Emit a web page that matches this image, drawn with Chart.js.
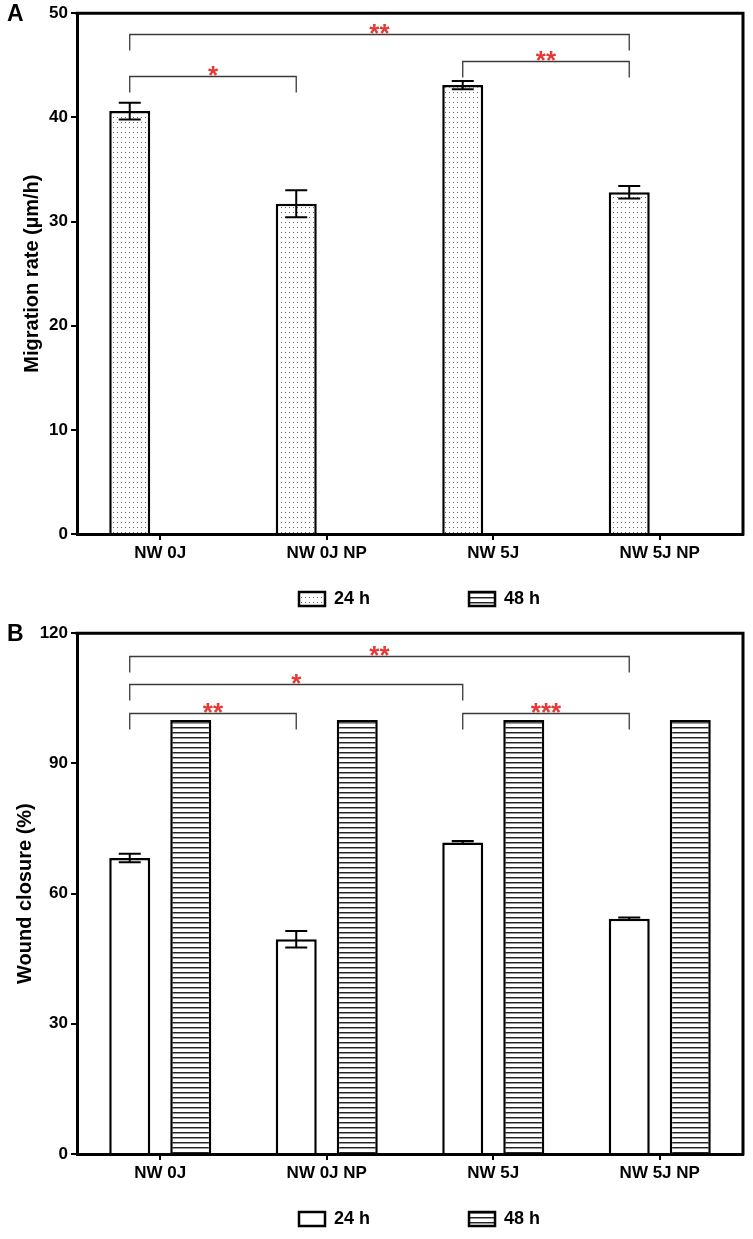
<!doctype html>
<html>
<head>
<meta charset="utf-8"/>
<title>Migration rate and wound closure</title>
<style>
  body { margin: 0; background: #fff; }
  #page { position: relative; width: 753px; height: 1239px; overflow: hidden; }
  canvas { position: absolute; left: 0; }
  .panel { position: absolute; left: 7px; font: bold 23px/23px "Liberation Sans", Arial, sans-serif; color: #000; }
</style>
</head>
<body>
<div id="page">
  <canvas id="chartA" width="753" height="620" style="top:0"></canvas>
  <canvas id="chartB" width="753" height="619" style="top:620px"></canvas>
  <div class="panel" style="top:2px">A</div>
  <div class="panel" style="top:622px">B</div>
</div>
<script src="https://cdn.jsdelivr.net/npm/chart.js@4.4.1/dist/chart.umd.min.js"></script>
<script>
var groups = ['NW 0J', 'NW 0J NP', 'NW 5J', 'NW 5J NP'];
var seriesNames = ['24 h', '48 h'];

// A: migration rate (µm/h), only measured at 24 h
var migration24 = [40.6, 31.7, 43.1, 32.8];
var migration24Err = [0.8, 1.3, 0.4, 0.6];
var migration48 = [null, null, null, null];
var migrationTicks = [0, 10, 20, 30, 40, 50];

// B: wound closure (%)
var closure24 = [68.2, 49.5, 71.8, 54.2];
var closure24Err = [1.0, 1.9, 0.3, 0.3];
var closure48 = [100, 100, 100, 100];
var closureTicks = [0, 30, 60, 90, 120];

// significance brackets: group from -> to, bracket height in axis units, stars
var sigFromA = [0, 0, 2];
var sigToA = [3, 1, 3];
var sigLevelA = [48.0, 44.0, 45.4];
var sigTextA = ['**', '*', '**'];

var sigFromB = [0, 0, 0, 2];
var sigToB = [3, 2, 1, 3];
var sigLevelB = [114.8, 108.3, 101.5, 101.7];
var sigTextB = ['**', '*', '**', '***'];

Chart.defaults.font.family = '"Liberation Sans", Arial, sans-serif';
Chart.defaults.font.weight = 'bold';
Chart.defaults.color = '#000';

function dotPattern() {
    var c = document.createElement('canvas');
    c.width = 4; c.height = 5;
    var g = c.getContext('2d');
    g.fillStyle = '#fff'; g.fillRect(0, 0, 4, 5);
    g.fillStyle = '#6a6a6a'; g.fillRect(1, 2, 1, 1);
    return g.createPattern(c, 'repeat');
}
function linePattern() {
    var c = document.createElement('canvas');
    c.width = 4; c.height = 5;
    var g = c.getContext('2d');
    g.fillStyle = '#fff'; g.fillRect(0, 0, 4, 5);
    g.fillStyle = '#222'; g.fillRect(0, 2, 4, 1);
    g.fillStyle = '#999'; g.fillRect(0, 3, 4, 1);
    return g.createPattern(c, 'repeat');
}

// error bars (mean ± err), read from dataset.errors
var errorBars = {
    id: 'errorBars',
    afterDatasetsDraw: function (chart) {
        var ctx = chart.ctx, y = chart.scales.y;
        chart.data.datasets.forEach(function (ds, di) {
            if (!ds.errors) return;
            chart.getDatasetMeta(di).data.forEach(function (bar, i) {
                if (ds.data[i] == null || !ds.errors[i]) return;
                var top = y.getPixelForValue(ds.data[i] + ds.errors[i]);
                var bot = y.getPixelForValue(ds.data[i] - ds.errors[i]);
                ctx.save();
                ctx.strokeStyle = '#000';
                ctx.lineWidth = 2;
                ctx.beginPath();
                ctx.moveTo(bar.x, top); ctx.lineTo(bar.x, bot);
                ctx.moveTo(bar.x - 11, top); ctx.lineTo(bar.x + 11, top);
                ctx.moveTo(bar.x - 11, bot); ctx.lineTo(bar.x + 11, bot);
                ctx.stroke();
                ctx.restore();
            });
        });
    }
};

function sigBrackets(from, to, level, text) {
    return {
        id: 'sigBrackets',
        afterDatasetsDraw: function (chart) {
            var ctx = chart.ctx, y = chart.scales.y;
            var bars = chart.getDatasetMeta(0).data;
            ctx.save();
            ctx.strokeStyle = '#3a3a3a';
            ctx.lineWidth = 1.3;
            ctx.fillStyle = '#e53935';
            ctx.font = 'bold 26px "Liberation Sans", Arial, sans-serif';
            ctx.textAlign = 'center';
            ctx.textBaseline = 'alphabetic';
            for (var k = 0; k < from.length; k++) {
                var x1 = bars[from[k]].x, x2 = bars[to[k]].x;
                var yy = Math.round(y.getPixelForValue(level[k])) + 0.5;
                ctx.beginPath();
                ctx.moveTo(x1, yy + 16); ctx.lineTo(x1, yy);
                ctx.lineTo(x2, yy); ctx.lineTo(x2, yy + 16);
                ctx.stroke();
                ctx.fillText(text[k], (x1 + x2) / 2, yy + 7);
            }
            ctx.restore();
        }
    };
}

// top and right edge of the plot box
var frame = {
    id: 'frame',
    afterDatasetsDraw: function (chart) {
        var a = chart.chartArea, ctx = chart.ctx;
        ctx.save();
        ctx.strokeStyle = '#000';
        ctx.lineWidth = 3;
        ctx.beginPath();
        ctx.moveTo(a.left - 1.5, a.top);
        ctx.lineTo(a.right, a.top);
        ctx.lineTo(a.right, a.bottom + 1.5);
        ctx.stroke();
        ctx.restore();
    }
};

// place the legend row under the x labels
var legendSpot = {
    id: 'legendSpot',
    beforeDraw: function (chart, args, opts) {
        var lg = chart.legend, pad = lg.options.labels.padding;
        lg.left = opts.x - pad;
        lg.right = chart.chartArea.right;
        lg.top = opts.y - pad;
        lg.bottom = opts.y + 30;
    }
};

function makeChart(id, d24, e24, d48, fill24, ticks, maxY, title, titlePad, sig) {
    return new Chart(document.getElementById(id), {
        type: 'bar',
        data: {
            labels: groups,
            datasets: [{
                label: seriesNames[0],
                data: d24,
                errors: e24,
                backgroundColor: fill24,
                borderColor: '#000',
                borderWidth: 2.5,
                barPercentage: 0.672,
                categoryPercentage: 0.733
            }, {
                label: seriesNames[1],
                data: d48,
                backgroundColor: linePattern(),
                borderColor: '#000',
                borderWidth: 2.5,
                barPercentage: 0.672,
                categoryPercentage: 0.733
            }]
        },
        options: {
            responsive: false,
            animation: false,
            events: [],
            layout: { padding: { left: 0, right: 10, top: 11, bottom: id === 'chartA' ? 16 : 15 } },
            scales: {
                x: {
                    offset: true,
                    grid: { offset: false, drawOnChartArea: false, drawTicks: true, tickLength: 6, color: '#000', lineWidth: 2 },
                    border: { display: true, color: '#000', width: 3 },
                    ticks: { font: { size: 17, weight: 'bold' }, color: '#000', padding: 3, maxRotation: 0, autoSkip: false },
                    afterFit: function (s) { s.height = 40; }
                },
                y: {
                    min: 0,
                    max: maxY,
                    afterBuildTicks: function (s) { s.ticks = ticks.map(function (v) { return { value: v }; }); },
                    grid: { drawOnChartArea: false, drawTicks: true, tickLength: 6, color: '#000', lineWidth: 2 },
                    border: { display: true, color: '#000', width: 3 },
                    ticks: { font: { size: 17, weight: 'bold' }, color: '#000', padding: 3 },
                    title: { display: true, text: title, font: { size: 20, weight: 'bold' }, color: '#000', padding: { top: titlePad, bottom: 0 } },
                    afterFit: function (s) { s.width = 77; }
                }
            },
            plugins: {
                legend: {
                    position: 'bottom',
                    align: 'start',
                    fullSize: false,
                    maxHeight: 30,
                    labels: { boxWidth: 26, boxHeight: 14, padding: 99, color: '#000', font: { size: 18, weight: 'bold' } }
                },
                legendSpot: { x: 299, y: 590 },
                tooltip: { enabled: false }
            }
        },
        plugins: [errorBars, frame, legendSpot, sig]
    });
}

makeChart('chartA', migration24, migration24Err, migration48, dotPattern(), migrationTicks, 50,
    'Migration rate (µm/h)', 20, sigBrackets(sigFromA, sigToA, sigLevelA, sigTextA));
makeChart('chartB', closure24, closure24Err, closure48, '#fff', closureTicks, 120,
    'Wound closure (%)', 13, sigBrackets(sigFromB, sigToB, sigLevelB, sigTextB));
</script>
</body>
</html>
